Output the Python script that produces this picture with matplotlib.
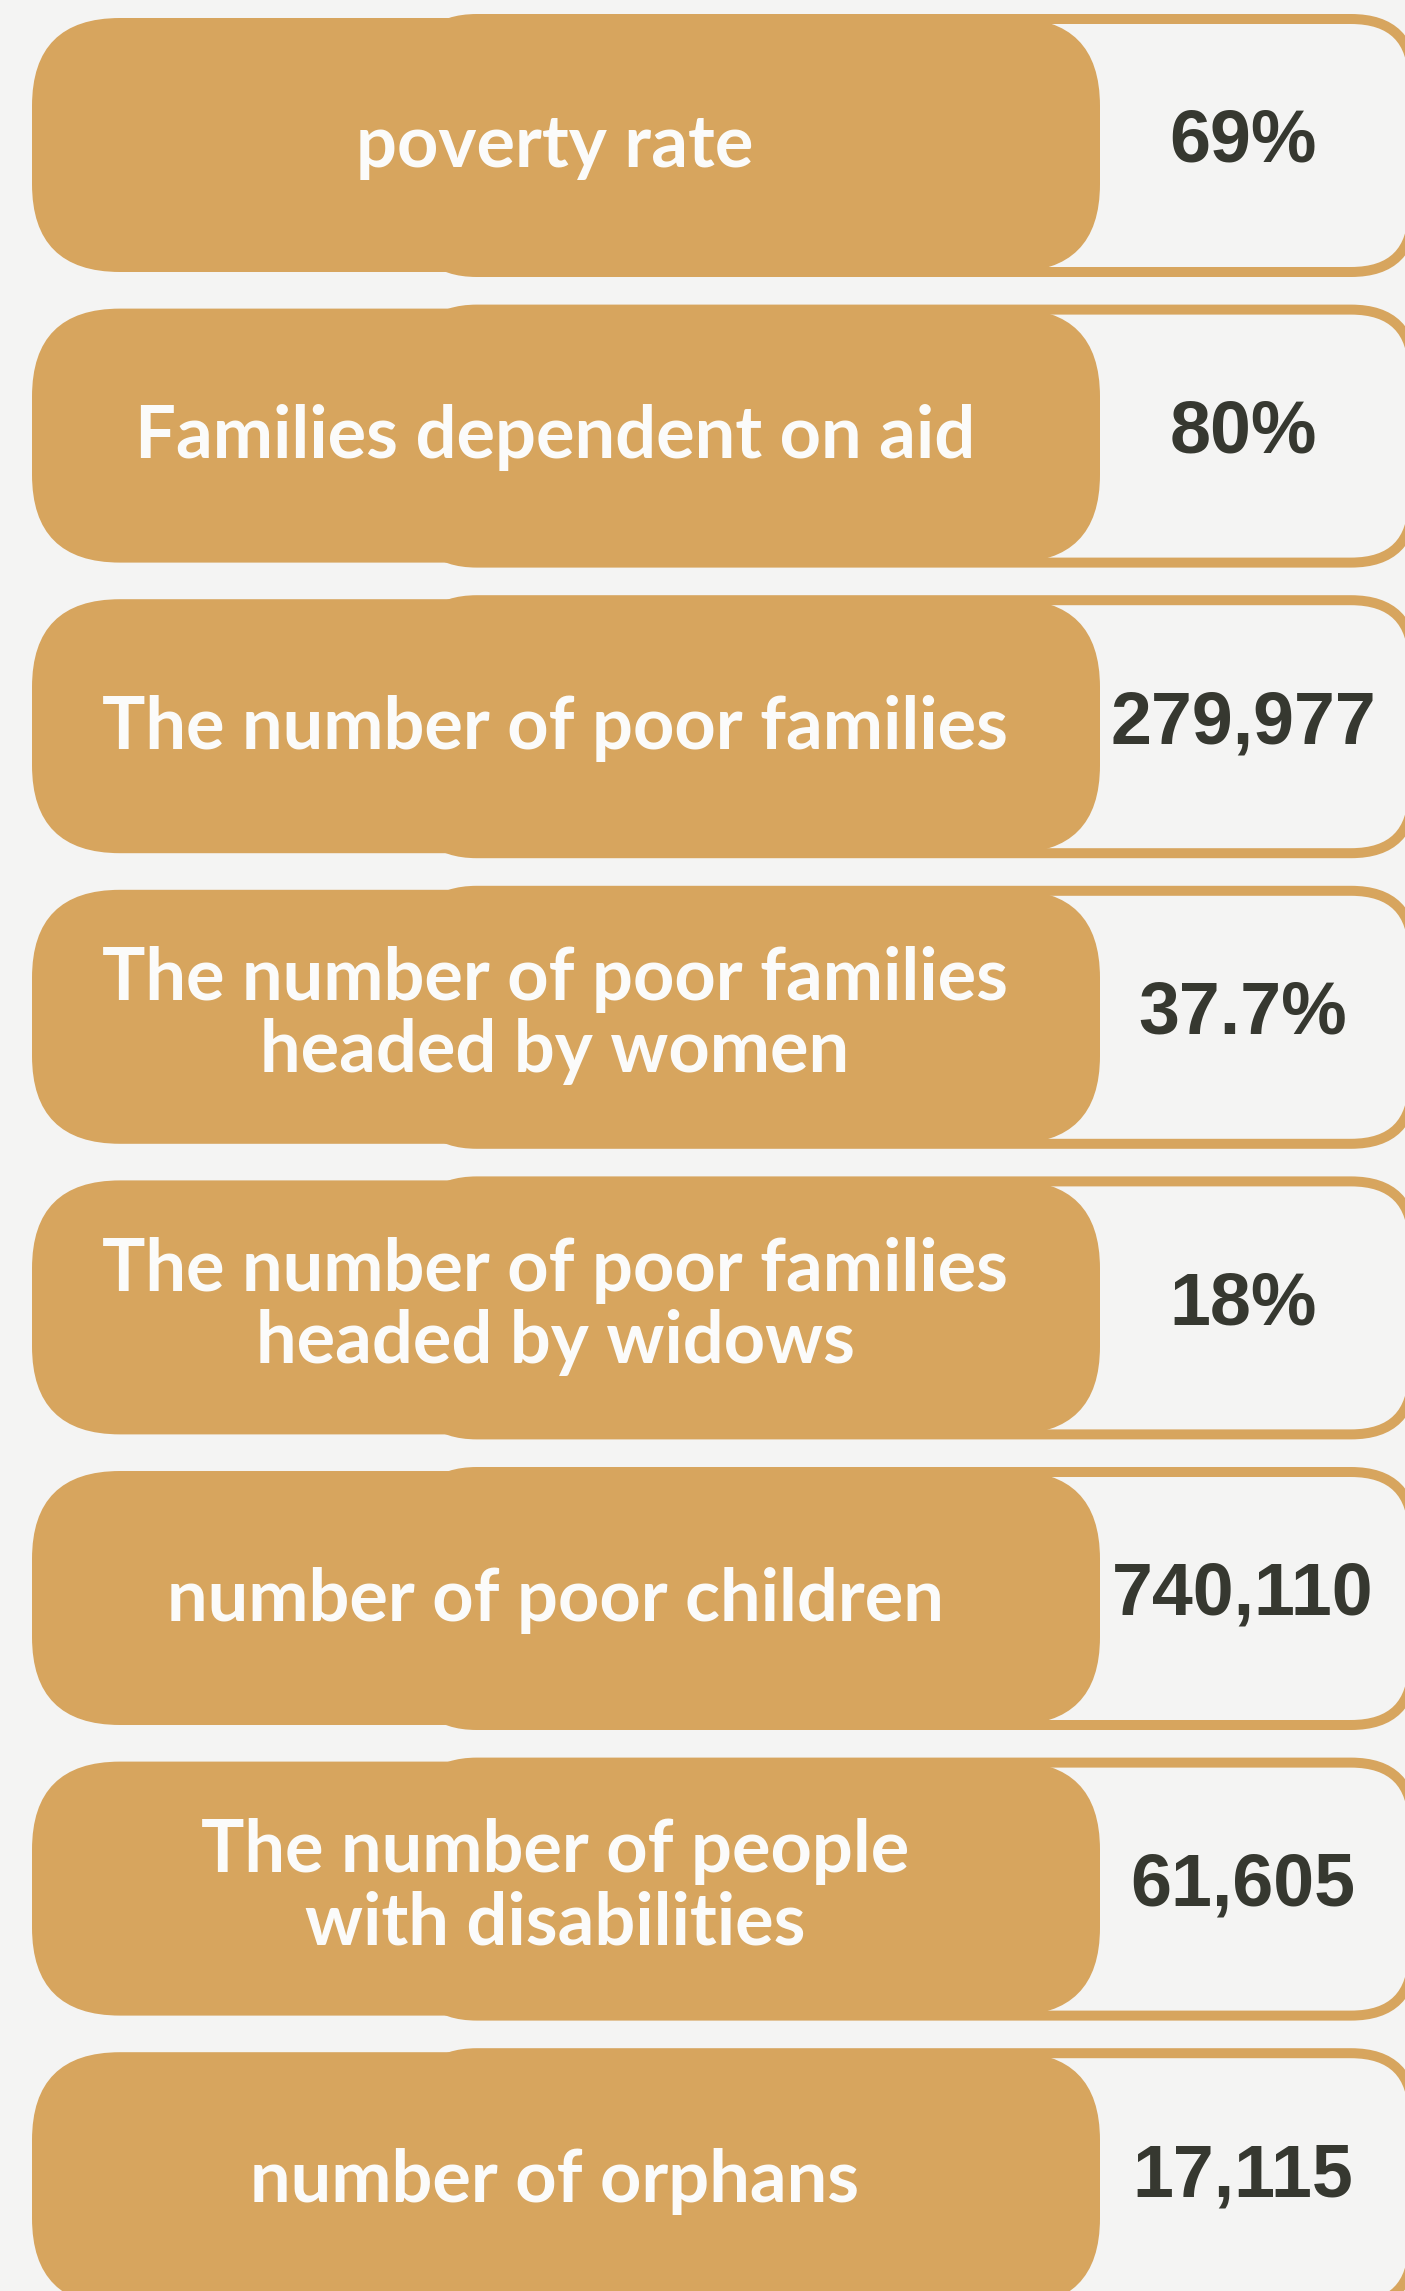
import matplotlib
matplotlib.use("Agg")
import matplotlib.pyplot as plt
from matplotlib.patches import FancyBboxPatch

# ---- data ----
labels = [
    "poverty rate",
    "Families dependent on aid",
    "The number of poor families",
    "The number of poor families\nheaded by women",
    "The number of poor families\nheaded by widows",
    "number of poor children",
    "The number of people\nwith disabilities",
    "number of orphans",
]
values = ["69%", "80%", "279,977", "37.7%", "18%", "740,110", "61,605", "17,115"]

# ---- style ----
BG = "#F4F4F3"
GOLD = "#D7A55E"
DARK = "#363830"
W, H = 1405, 2291

fig = plt.figure(figsize=(W / 100, H / 100), dpi=100)
fig.patch.set_facecolor(BG)
ax = fig.add_axes([0, 0, 1, 1])
ax.set_xlim(0, W)
ax.set_ylim(H, 0)
ax.axis("off")
ax.set_facecolor(BG)

pitch = 290.6
for i, (lab, val) in enumerate(zip(labels, values)):
    top = 19 + i * pitch
    bot = 272 + i * pitch
    cy = (top + bot) / 2

    # outlined value box
    ax.add_patch(FancyBboxPatch((415, top), 1413 - 415, bot - top,
                                boxstyle="round,pad=0,rounding_size=62",
                                fc=BG, ec=GOLD, lw=7.2, zorder=1))
    # filled label pill
    ftop, fbot = top - 1, bot
    ax.add_patch(FancyBboxPatch((32, ftop), 1100 - 32, fbot - ftop,
                                boxstyle="round,pad=0,rounding_size=88",
                                fc=GOLD, ec="none", zorder=2))

    # label text
    nlines = lab.count("\n") + 1
    if nlines == 1:
        ybase = cy - 4 + 26
    else:
        ybase = cy + 55
    ax.text(555, ybase, lab, ha="center", va="baseline", multialignment="center",
            fontsize=52, fontfamily=["Lato", "DejaVu Sans"], fontweight="bold",
            color="#FBFBFA", linespacing=1.1, zorder=5)

    # value text
    ax.text(1243, cy - 10 + 26.5, val, ha="center", va="baseline",
            fontsize=53, fontfamily=["Liberation Sans", "DejaVu Sans"],
            fontweight="bold", color=DARK, zorder=5)

fig.savefig("out.png", dpi=100, facecolor=BG)
